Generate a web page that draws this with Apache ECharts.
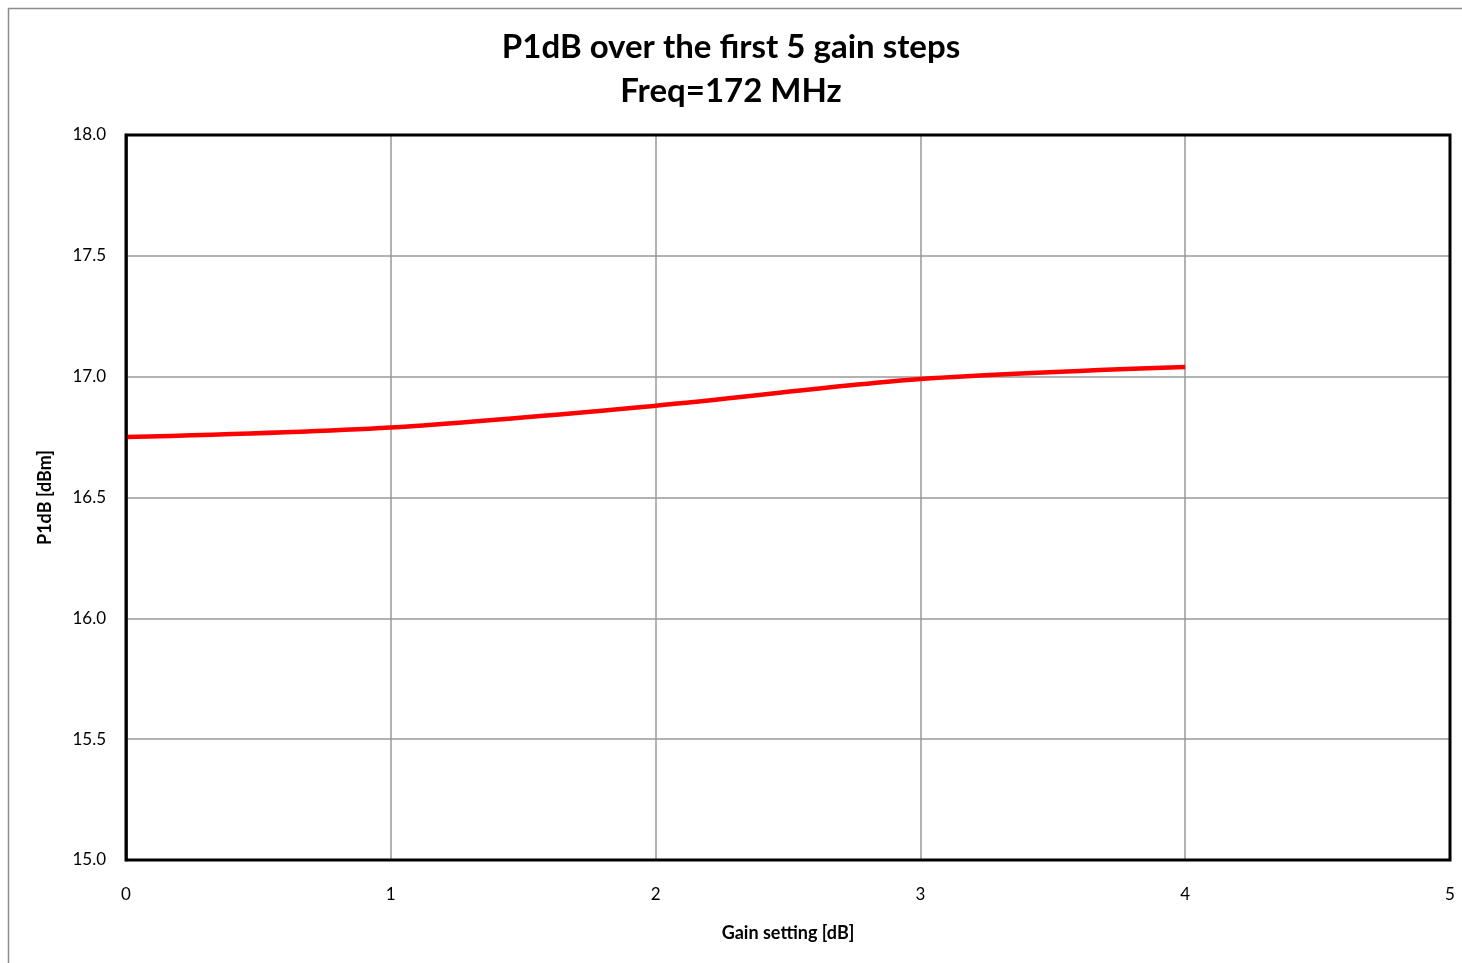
<!DOCTYPE html>
<html>
<head>
<meta charset="utf-8">
<title>P1dB over the first 5 gain steps</title>
<script src="https://cdn.jsdelivr.net/npm/echarts@6/dist/echarts.min.js"></script>
<style>
  html, body { margin: 0; padding: 0; background: #fff; }
  #chart { width: 1462px; height: 963px; }
</style>
</head>
<body>
<div id="chart"></div>
<script>
// Gain setting [dB] vs measured P1dB [dBm] at 172 MHz
const gainSteps = [0, 1, 2, 3, 4];
const p1dbValues = [16.75, 16.79, 16.88, 16.99, 17.04];
const xTicks = [0, 1, 2, 3, 4, 5];
const yTicks = [15.0, 15.5, 16.0, 16.5, 17.0, 17.5, 18.0];

const FONT = 'Lato, "Noto Sans", sans-serif';

const chart = echarts.init(document.getElementById('chart'), null, { renderer: 'canvas' });

chart.setOption({
  backgroundColor: '#fff',
  animation: false,
  title: {
    text: 'P1dB over the first 5 gain steps\nFreq=172 MHz',
    left: 'center',
    top: 20,
    textStyle: {
      fontFamily: FONT,
      fontWeight: 'bold',
      fontSize: 33,
      lineHeight: 44,
      color: '#000'
    }
  },
  graphic: [{
    type: 'rect',
    silent: true,
    shape: { x: 8.5, y: 8.5, width: 1600, height: 1100 },
    style: { fill: 'none', stroke: '#8c8c8c', lineWidth: 1.5 }
  }],
  grid: {
    left: 126,
    right: 12,
    top: 135,
    bottom: 103,
    show: true,
    borderColor: '#000',
    borderWidth: 3,
    backgroundColor: 'transparent',
    z: 10
  },
  xAxis: {
    type: 'value',
    min: xTicks[0],
    max: xTicks[xTicks.length - 1],
    interval: 1,
    name: 'Gain setting [dB]',
    nameLocation: 'middle',
    nameGap: 64,
    nameTextStyle: { fontFamily: FONT, fontWeight: 'bold', fontSize: 18, color: '#000' },
    axisLine: { show: false },
    axisTick: { show: false },
    axisLabel: {
      fontFamily: FONT, fontSize: 17, color: '#000', margin: 26,
      formatter: v => String(v)
    },
    splitLine: {
      show: true, showMinLine: false, showMaxLine: false,
      lineStyle: { color: '#999', width: 1.5 }
    }
  },
  yAxis: {
    type: 'value',
    min: yTicks[0],
    max: yTicks[yTicks.length - 1],
    interval: 0.5,
    name: 'P1dB [dBm]',
    nameLocation: 'middle',
    nameGap: 72,
    nameRotate: 90,
    nameTextStyle: { fontFamily: FONT, fontWeight: 'bold', fontSize: 18, color: '#000' },
    axisLine: { show: true, lineStyle: { color: '#444', width: 3 } },
    axisTick: { show: false },
    axisLabel: {
      fontFamily: FONT, fontSize: 17, color: '#000', margin: 20,
      formatter: v => v.toFixed(1)
    },
    splitLine: {
      show: true, showMinLine: false, showMaxLine: false,
      lineStyle: { color: '#999', width: 1.5 }
    }
  },
  series: [{
    type: 'line',
    data: gainSteps.map((g, i) => [g, p1dbValues[i]]),
    smooth: 0.3,
    showSymbol: false,
    lineStyle: { color: '#ff0000', width: 4.5 },
    z: 5
  }]
});
</script>
</body>
</html>
